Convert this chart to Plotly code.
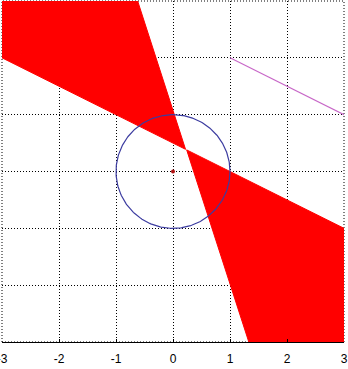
import numpy as np
import plotly.graph_objects as go

# Region vertices (data units)
upper_x = [-3.0, -0.62, 0.22, -3.0]
upper_y = [3.0, 3.0, 0.39, 2.0]
lower_x = [0.24, 3.0, 3.0, 1.33]
lower_y = [0.38, -1.0, -3.0, -3.0]

line_x = [1.0, 3.0]
line_y = [2.0, 1.0]

circle_center = (0.0, 0.0)
circle_radius = 1.0

tick_vals = [-3, -2, -1, 0, 1, 2, 3]
tick_text = ["-3", "-2", "-1", "0", "1", "2", "3"]

t = np.linspace(0, 2 * np.pi, 361)
cx = circle_center[0] + circle_radius * np.cos(t)
cy = circle_center[1] + circle_radius * np.sin(t)

fig = go.Figure()
for xs, ys in [(upper_x, upper_y), (lower_x, lower_y)]:
    fig.add_trace(go.Scatter(x=xs + [xs[0]], y=ys + [ys[0]], fill="toself", mode="lines",
                             fillcolor="#ff0000", line=dict(color="#ff0000", width=1),
                             hoverinfo="skip"))
fig.add_trace(go.Scatter(x=line_x, y=line_y, mode="lines",
                         line=dict(color="#c868c8", width=1.2)))
fig.add_trace(go.Scatter(x=cx, y=cy, mode="lines",
                         line=dict(color="#3c3ca0", width=1.2)))
fig.add_trace(go.Scatter(x=[circle_center[0]], y=[circle_center[1]], mode="markers",
                         marker=dict(color="#b01010", size=4)))

dot = "1px,2px"
fig.update_layout(
    width=348, height=369,
    margin=dict(l=2, r=4, t=1, b=27),
    plot_bgcolor="white", paper_bgcolor="white",
    showlegend=False,
    font=dict(family="Liberation Sans, Arial, sans-serif", size=12, color="black"),
)
fig.update_xaxes(range=[-3, 3], tickvals=tick_vals, ticktext=tick_text,
                 showgrid=True, gridcolor="black", griddash=dot, gridwidth=1,
                 zeroline=False, showline=True, linecolor="black", linewidth=1,
                 ticks="inside", ticklen=3, tickcolor="black", ticklabelstandoff=6,
                 ticklabeloverflow="allow", automargin=False)
fig.update_yaxes(range=[-3, 3], tickvals=tick_vals, showticklabels=False,
                 showgrid=True, gridcolor="black", griddash=dot, gridwidth=1,
                 zeroline=False, showline=False, automargin=False)
fig.add_shape(type="rect", xref="paper", yref="paper", x0=0, y0=0, x1=1, y1=1,
              line=dict(color="black", width=1, dash=dot), layer="below")

fig.write_html("out.html")
